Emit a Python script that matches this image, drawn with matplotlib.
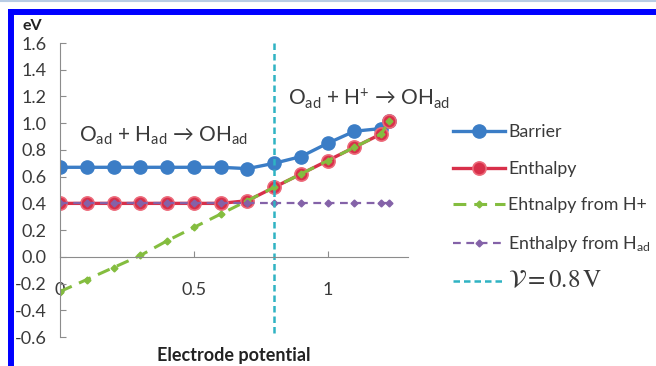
import numpy as np
import matplotlib
matplotlib.use("Agg")
import matplotlib.pyplot as plt
from matplotlib.lines import Line2D

plt.rcParams['font.family'] = ['Lato', 'DejaVu Sans']
plt.rcParams['mathtext.fontset'] = 'custom'
plt.rcParams['mathtext.rm'] = 'Lato'
plt.rcParams['mathtext.it'] = 'Lato:italic'

# electrode potential (V) and energies (eV)
potential = [0, 0.1, 0.2, 0.3, 0.4, 0.5, 0.6, 0.7, 0.8, 0.9, 1.0, 1.1, 1.2, 1.23]
barrier = [0.67, 0.67, 0.67, 0.67, 0.67, 0.67, 0.67, 0.66, 0.70, 0.75, 0.85, 0.94, 0.96, 1.02]
enthalpy = [0.40, 0.40, 0.40, 0.40, 0.40, 0.40, 0.40, 0.42, 0.52, 0.62, 0.72, 0.82, 0.92, 1.02]
enthalpy_hplus = [-0.26, -0.17, -0.08, 0.01, 0.12, 0.22, 0.32, 0.42, 0.52, 0.62, 0.72, 0.82, 0.92, 1.02]
enthalpy_had = [0.40] * 14

v_cut = 0.8
v_span = (-0.57, 1.6)
yticks = [-0.6, -0.4, -0.2, 0.0, 0.2, 0.4, 0.6, 0.8, 1.0, 1.2, 1.4, 1.6]
xticks = [0, 0.5, 1]
xticklabels = ['0', '0.5', '1']

c_blue = '#3b7dc6'
c_red = '#d8304a'
c_green = '#84bd3f'
c_purple = '#8462a8'
c_cyan = '#2fb3c3'
c_axis = '#8c8c8c'
c_text = '#3a3a3a'

fig = plt.figure(figsize=(6.56, 3.66), dpi=100)
ax = fig.add_axes([0.0915, 0.0792, 0.5305, 0.8033])

ax.plot(potential, barrier, color=c_blue, lw=2.4, marker='o', ms=9.5,
        mfc=c_blue, mec=c_blue, label='Barrier')
ax.plot(potential, enthalpy, color=c_red, lw=2.4, marker='o', ms=9.5,
        mfc=c_red, mec='#ec6a7a', mew=1.2, label='Enthalpy')
ax.plot(potential, enthalpy_hplus, color=c_green, lw=2.2, ls=(0, (4.2, 2.6)),
        marker='D', ms=3.5, mfc=c_green, mec=c_green, label='Ehtnalpy from H+')
ax.plot(potential, enthalpy_had, color=c_purple, lw=1.6, ls=(0, (3.5, 2.5)),
        marker='D', ms=3.5, mfc=c_purple, mec=c_purple,
        label=r'Enthalpy from H$_{\mathrm{ad}}$')
vline, = ax.plot([v_cut, v_cut], v_span, color=c_cyan, lw=1.8, ls=(0, (2.6, 1.6)),
                 label=r'$\mathcal{V} = 0.8\,\mathrm{V}$')

ax.set_xlim(0, 1.3)
ax.set_ylim(-0.6, 1.6)
ax.set_yticks(yticks)
ax.set_yticklabels([f'{t:.1f}' for t in yticks])
ax.set_xticks(xticks)
ax.set_xticklabels(xticklabels)

for s in ['top', 'right']:
    ax.spines[s].set_visible(False)
ax.spines['bottom'].set_position(('data', 0))
ax.spines['left'].set_color(c_axis)
ax.spines['bottom'].set_color(c_axis)
ax.tick_params(axis='y', direction='in', length=4, color=c_axis,
               labelsize=13, pad=9.5, labelcolor=c_text)
ax.tick_params(axis='x', direction='in', length=4, color=c_axis,
               labelsize=13, pad=18, labelcolor=c_text)

ax.text(0.385, 0.905, r'O$_{\mathrm{ad}}$ + H$_{\mathrm{ad}}$ → OH$_{\mathrm{ad}}$',
        ha='center', va='center', fontsize=15, color=c_text)
ax.text(1.155, 1.18, r'O$_{\mathrm{ad}}$ + H$^{+}$ → OH$_{\mathrm{ad}}$',
        ha='center', va='center', fontsize=15, color=c_text)

fig.text(0.049, 0.929, 'eV', ha='center', va='center', fontsize=11.5,
         fontweight='bold', color='#222222')
fig.text(0.357, 0.030, 'Electrode potential', ha='center', va='center',
         fontsize=13, fontweight='bold', color='#222222')

# series legend, then the potential marker as its own entry below it
handles, labels = ax.get_legend_handles_labels()
leg = ax.legend(handles[:4], labels[:4], loc='upper left',
                bbox_to_anchor=(0.6905, 0.66),
                bbox_transform=fig.transFigure, frameon=False, fontsize=12.8,
                handlelength=2.9, handletextpad=0.2, labelspacing=1.15,
                borderpad=0, borderaxespad=0, labelcolor=c_text)
ax.add_artist(leg)
leg2 = ax.legend([vline], [labels[4]], loc='center left',
                 bbox_to_anchor=(0.6905, 0.232),
                 bbox_transform=fig.transFigure, frameon=False, fontsize=12.8,
                 handlelength=2.9, handletextpad=0.2,
                 borderpad=0, borderaxespad=0, labelcolor=c_text)
vtxt = leg2.get_texts()[0]
vtxt.set_fontsize(18)
vtxt.set_fontfamily('DejaVu Serif')
vtxt.set_math_fontfamily('stix')

# frame around the panel
fig.add_artist(Line2D([0, 1], [0.9975, 0.9975], color='#b8cce4', lw=1.5,
                      transform=fig.transFigure))
fig.add_artist(Line2D([0.012, 1], [0.967, 0.967], color='#0000ff', lw=4.3,
                      transform=fig.transFigure, solid_capstyle='butt'))
fig.add_artist(Line2D([0.0168, 0.0168], [0, 0.975], color='#0000ff', lw=4.3,
                      transform=fig.transFigure, solid_capstyle='butt'))

fig.savefig('out.png', dpi=100)
